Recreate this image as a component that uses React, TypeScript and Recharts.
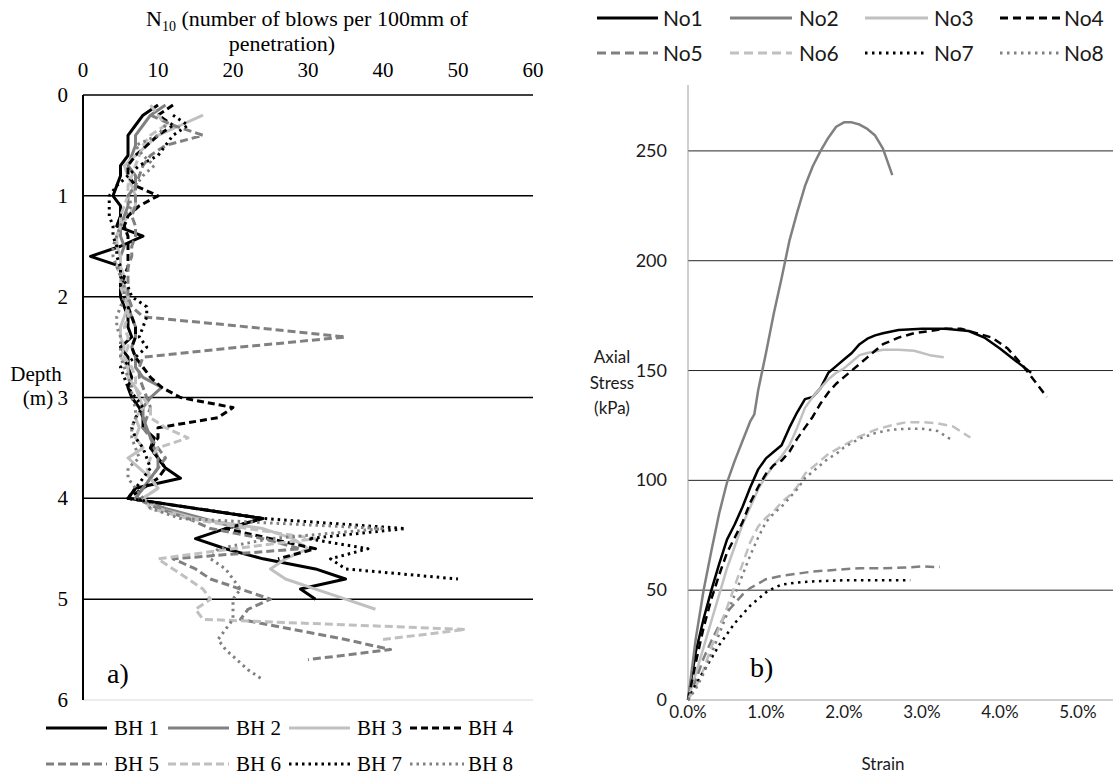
import React from "react";
import { ScatterChart, Scatter, XAxis, YAxis, ReferenceLine } from "recharts";

const SERIF = "'Liberation Serif', 'Times New Roman', serif";
const SANS = "Lato, 'Open Sans', sans-serif";

// ---- a) DCP profiles: one N10 reading every 100 mm ----
const DEPTHS = [
  0.1, 0.2, 0.3, 0.4, 0.5, 0.6, 0.7, 0.8, 0.9, 1.0,
  1.1, 1.2, 1.3, 1.4, 1.5, 1.6, 1.7, 1.8, 1.9, 2.0,
  2.1, 2.2, 2.3, 2.4, 2.5, 2.6, 2.7, 2.8, 2.9, 3.0,
  3.1, 3.2, 3.3, 3.4, 3.5, 3.6, 3.7, 3.8, 3.9, 4.0,
  4.1, 4.2, 4.3, 4.4, 4.5, 4.6, 4.7, 4.8, 4.9, 5.0,
  5.1, 5.2, 5.3, 5.4, 5.5, 5.6, 5.7, 5.8, 5.9,
];

const BH1 = [
  10, 8, 7, 6, 6, 6, 5, 5, 4.5, 4,
  5, 5, 4.5, 8, 5, 1, 5, 5, 5, 5,
  5.5, 6, 6, 6.5, 5, 6, 6, 6.5, 6, 6.5,
  7.5, 8, 8, 9.5, 9, 10, 11, 13, 7, 6,
  15, 24, 19, 15, 19, 24, 31, 35, 29, 31,
];
const BH2 = [
  11, 9, 8, 7, 7, 6.5, 6, 7, 7, 6,
  6, 5.5, 5, 5, 5.5, 5, 5, 5, 5.5, 6,
  6, 6.5, 7, 7, 6.5, 7, 7, 8, 10.5, 9,
  8, 8, 8.5, 9, 9.5, 10, 10, 9, 8, 7,
  11, 16, 21,
];
const BH3 = [
  null, 16, 13, 10, 8.5, 7, 5.5, 6, 6.5, 7,
  7, 6, 5, 4.5, 4.5, 5, 5, 5.5, 5.5, 6,
  6, 5.5, 5, 5, 5.5, 5, 6, 6, 7, 7.5,
  8, 7, 7.5, 7, 8, 6, 7.5, 9, 10, 8,
  10, 15, 24, 28, 30, 27, 25, 27, 31, 35,
  39,
];
const BH4 = [
  12, 10, 12, 10, 8.5, 7, 6, 6, 7, 10,
  7.5, 6, 5.5, 6, 6, 6, 6, 5.5, 5, 5.5,
  6, 6.5, 7, 7, 6.5, 7, 8, 9, 10.5, 13,
  20, 18, 10, 10, 9, 10, 11, 10, 8, 6,
  15, 24, 19, 25, 31, 26,
];
const BH5 = [
  null, 9, 12, 16, 11, 9, 8, 7.5, 7, 7,
  7, 6.5, 7, 7, 6.5, 6.5, 6, 6, 6, 6,
  6.5, 8, 22, 35, 21, 8, 7.5, 7.5, 8, 8.5,
  9, 8.5, 8, 9, 10, 11, 10, 9, 8, 7,
  10, 14, 17, 24, 29, 12, 15, 17, 21, 25,
  22, 21, 28, 35, 41, 30,
];
const BH6 = [
  9, 10, 11, 9, 8, 7.5, 7, 6.5, 6, 6,
  5.5, 5, 5, 4.5, 4.5, 5, 4.5, 5, 5, 5.5,
  6, 6, 5.5, 6, 6, 5.5, 6.5, 7, 7, 8,
  9, 9, 11, 14, 10, 9, 8.5, 9, 10, 8,
  9, 14, 22, 31, 20, 10, 12, 14, 16, 17,
  15, 16, 51, 40,
];
const BH7 = [
  null, 12, 14, 12, 11, 10, 7.5, 6, 4.5, 3.5,
  3.5, 3.5, 4, 4, 4.5, 4.5, 5, 5, 6, 6.5,
  8.5, 8.5, 8, 7.5, 8.5, 7, 5, 5.5, 6, 7,
  8, 7, 6.5, 7, 8, 8.5, 9, 8, 7, 6,
  15, 24, 43, 30, 38, 33, 35, 50,
];
const BH8 = [
  null, null, 11, 10, 7, 8, 9.5, 8, 7, 6,
  6.5, 5.5, 5, 4.5, 4, 4, 4.5, 5, 5.5, 5.5,
  5, 4.5, 4.5, 5, 5, 5, 5.5, 6, 6.5, 6.5,
  7, 7, 6.5, 6.5, 7, 7.5, 6, 6, 7, 8,
  9, 13, 40, 25, 18, 17, 19, 20, 21, 20,
  20, 20, 19, 18, 19, 20.5, 22, 24,
];

const N_TICKS = [0, 10, 20, 30, 40, 50, 60];
const DEPTH_TICKS = [0, 1, 2, 3, 4, 5, 6];
const DEPTH_GRID = [0, 1, 2, 3, 4, 5];

// ---- b) triaxial stress-strain (strain in %) ----
const NO1_STRAIN = [0, 0.1, 0.2, 0.3, 0.4, 0.5, 0.6, 0.7, 0.8, 0.9, 1.0, 1.1, 1.2, 1.3, 1.4, 1.5, 1.6, 1.7, 1.8, 1.9, 2.0, 2.1, 2.2, 2.3, 2.4, 2.5, 2.7, 3.0, 3.3, 3.6, 3.8, 4.0, 4.2, 4.4];
const NO1_STRESS = [0, 22, 37, 50, 62, 73, 80, 88, 97, 105, 110, 113, 116, 124, 131, 137, 138, 142, 149, 152, 155, 158, 162, 164.5, 166, 167, 168.5, 169, 169, 168, 165, 160, 154.5, 149];

const NO2_STRAIN = [0, 0.1, 0.2, 0.3, 0.4, 0.5, 0.6, 0.7, 0.8, 0.85, 0.9, 1.0, 1.1, 1.2, 1.3, 1.4, 1.5, 1.6, 1.7, 1.8, 1.9, 2.0, 2.1, 2.2, 2.3, 2.4, 2.5, 2.62];
const NO2_STRESS = [0, 28, 50, 68, 85, 99, 109, 118, 127, 130, 141, 158, 176, 192, 209, 222, 234, 243, 250, 256, 261, 263, 263, 262, 260, 257, 251, 239];

const NO3_STRAIN = [0, 0.1, 0.2, 0.3, 0.4, 0.5, 0.6, 0.7, 0.8, 0.9, 1.0, 1.1, 1.2, 1.3, 1.4, 1.5, 1.6, 1.7, 1.8, 1.9, 2.0, 2.1, 2.2, 2.3, 2.5, 2.7, 2.9, 3.1, 3.28];
const NO3_STRESS = [0, 12, 24, 36, 48, 60, 70, 80, 88, 96, 102, 107, 111, 116, 124, 133, 138, 142, 146, 149, 151, 154, 157, 158, 159.5, 159.5, 159, 157, 156];

const NO4_STRAIN = [0, 0.1, 0.2, 0.3, 0.4, 0.5, 0.6, 0.7, 0.8, 0.9, 1.0, 1.1, 1.2, 1.3, 1.4, 1.5, 1.6, 1.7, 1.8, 1.9, 2.0, 2.1, 2.2, 2.3, 2.4, 2.5, 2.7, 2.9, 3.1, 3.3, 3.5, 3.7, 3.9, 4.1, 4.3, 4.45, 4.6];
const NO4_STRESS = [0, 17, 33, 46, 57, 67, 74, 81, 90, 97, 103, 107, 109, 113, 119, 124, 129, 135, 140, 144, 147, 150, 153, 156, 159, 162, 165, 167, 168, 169, 169, 167, 165, 160, 152, 145, 138];

const NO5_STRAIN = [0, 0.1, 0.2, 0.3, 0.4, 0.5, 0.6, 0.7, 0.8, 0.9, 1.0, 1.2, 1.4, 1.6, 1.8, 2.0, 2.2, 2.5, 2.8, 3.0, 3.23];
const NO5_STRESS = [0, 9, 19, 27, 34, 40, 44, 48, 51, 53, 55, 56.5, 57.5, 58.5, 59, 59.5, 60, 60, 60.3, 60.8, 60.5];

const NO6_STRAIN = [0, 0.1, 0.2, 0.3, 0.4, 0.5, 0.6, 0.7, 0.8, 0.9, 1.0, 1.1, 1.2, 1.3, 1.4, 1.5, 1.6, 1.7, 1.8, 1.9, 2.0, 2.2, 2.4, 2.6, 2.8, 3.0, 3.2, 3.4, 3.62];
const NO6_STRESS = [0, 6, 14, 24, 33, 42, 52, 62, 72, 79, 83, 86, 90, 93, 97, 103, 106, 109, 112, 114, 116, 120, 123, 125, 126.5, 126.5, 126, 124.5, 119.5];

const NO7_STRAIN = [0, 0.1, 0.2, 0.3, 0.4, 0.5, 0.6, 0.7, 0.8, 0.9, 1.0, 1.1, 1.2, 1.4, 1.6, 2.0, 2.4, 2.85];
const NO7_STRESS = [0, 7, 13, 19, 25, 30, 35, 39, 43, 46, 49, 51, 52.5, 53.5, 54, 54.5, 54.5, 54.5];

const NO8_STRAIN = [0, 0.1, 0.2, 0.3, 0.4, 0.5, 0.6, 0.7, 0.8, 0.9, 1.0, 1.1, 1.2, 1.3, 1.4, 1.5, 1.6, 1.7, 1.8, 1.9, 2.0, 2.2, 2.4, 2.6, 2.8, 3.0, 3.2, 3.4];
const NO8_STRESS = [0, 5, 12, 21, 30, 39, 48, 57, 66, 74, 81, 85, 88, 92, 96, 101, 104, 107, 110, 112, 115, 119, 121.5, 123, 123.5, 123.5, 122.5, 118];

const STRAIN_TICKS = [0, 1, 2, 3, 4, 5];
const STRESS_TICKS = [0, 50, 100, 150, 200, 250];
const STRESS_GRID = [50, 100, 150, 200, 250];

const BLACK = "#000000";
const MID = "#808080";
const LIGHT = "#c0c0c0";

type Style = { color: string; dash?: string };

const profile = (values: (number | null)[]) =>
  values
    .map((n, i) => (n == null ? null : { n, d: DEPTHS[i] }))
    .filter((p): p is { n: number; d: number } => p !== null);

const curve = (strain: number[], stress: number[]) =>
  strain.map((x, i) => ({ x, y: stress[i] }));

const BOREHOLES: ({ name: string; values: (number | null)[] } & Style)[] = [
  { name: "BH 1", values: BH1, color: BLACK },
  { name: "BH 2", values: BH2, color: MID },
  { name: "BH 3", values: BH3, color: LIGHT },
  { name: "BH 4", values: BH4, color: BLACK, dash: "7 4" },
  { name: "BH 5", values: BH5, color: MID, dash: "8 4" },
  { name: "BH 6", values: BH6, color: LIGHT, dash: "8 4" },
  { name: "BH 7", values: BH7, color: BLACK, dash: "2.5 4" },
  { name: "BH 8", values: BH8, color: MID, dash: "2.5 4" },
];

const TESTS: ({ name: string; strain: number[]; stress: number[] } & Style)[] = [
  { name: "No1", strain: NO1_STRAIN, stress: NO1_STRESS, color: BLACK },
  { name: "No2", strain: NO2_STRAIN, stress: NO2_STRESS, color: MID },
  { name: "No3", strain: NO3_STRAIN, stress: NO3_STRESS, color: LIGHT },
  { name: "No4", strain: NO4_STRAIN, stress: NO4_STRESS, color: BLACK, dash: "8 5" },
  { name: "No5", strain: NO5_STRAIN, stress: NO5_STRESS, color: MID, dash: "9 5" },
  { name: "No6", strain: NO6_STRAIN, stress: NO6_STRESS, color: LIGHT, dash: "9 5" },
  { name: "No7", strain: NO7_STRAIN, stress: NO7_STRESS, color: BLACK, dash: "2.5 4.5" },
  { name: "No8", strain: NO8_STRAIN, stress: NO8_STRESS, color: MID, dash: "2.5 4.5" },
];

const noDot = () => <g />;

// tick labels
const NTick = ({ x, payload }: any) => (
  <text x={x} y={77} textAnchor="middle" fontFamily={SERIF} fontSize={21} fill="#000">
    {payload.value}
  </text>
);
const DepthTick = ({ y, payload }: any) => (
  <text x={68} y={y + 7} textAnchor="end" fontFamily={SERIF} fontSize={21} fill="#000">
    {payload.value}
  </text>
);
const StrainTick = ({ x, payload }: any) => (
  <text x={x} y={718} textAnchor="middle" fontFamily={SANS} fontSize={17} fill="#1a1a1a">
    {`${payload.value.toFixed(1)}%`}
  </text>
);
const StressTick = ({ y, payload }: any) => (
  <text x={107} y={y + 6} textAnchor="end" fontFamily={SANS} fontSize={18} fill="#1a1a1a">
    {payload.value}
  </text>
);

function DepthProfiles() {
  return (
    <ScatterChart width={560} height={778} margin={{ top: 70, right: 27, bottom: 78, left: 40 }}>
      <XAxis
        type="number"
        dataKey="n"
        orientation="top"
        domain={[0, 60]}
        ticks={N_TICKS}
        height={25}
        axisLine={false}
        tickLine={false}
        tick={NTick}
      />
      <YAxis
        type="number"
        dataKey="d"
        domain={[0, 6]}
        reversed
        ticks={DEPTH_TICKS}
        width={43}
        axisLine={{ stroke: "#000", strokeWidth: 2 }}
        tickLine={false}
        tick={DepthTick}
      />
      {DEPTH_GRID.map((d) => (
        <ReferenceLine key={d} y={d} stroke="#000" strokeWidth={1.5} />
      ))}
      <ReferenceLine y={6} stroke="#d9d9d9" strokeWidth={1} />
      {BOREHOLES.map((b) => (
        <Scatter
          key={b.name}
          name={b.name}
          data={profile(b.values)}
          shape={noDot}
          line={{ stroke: b.color, strokeWidth: 3, strokeDasharray: b.dash, strokeLinejoin: "round" }}
          isAnimationActive={false}
        />
      ))}
    </ScatterChart>
  );
}

function StressStrain() {
  return (
    <ScatterChart width={555} height={778} margin={{ top: 85, right: 2, bottom: 48, left: 80 }}>
      <XAxis
        type="number"
        dataKey="x"
        domain={[0, 5.45]}
        ticks={STRAIN_TICKS}
        height={30}
        axisLine={{ stroke: "#a0a0a0" }}
        tickLine={false}
        tick={StrainTick}
      />
      <YAxis
        type="number"
        dataKey="y"
        domain={[0, 280]}
        ticks={STRESS_TICKS}
        width={48}
        axisLine={{ stroke: "#a0a0a0" }}
        tickLine={false}
        tick={StressTick}
      />
      {STRESS_GRID.map((s) => (
        <ReferenceLine key={s} y={s} stroke="#262626" strokeWidth={1} />
      ))}
      {TESTS.map((t) => (
        <Scatter
          key={t.name}
          name={t.name}
          data={curve(t.strain, t.stress)}
          shape={noDot}
          line={{ stroke: t.color, strokeWidth: 2.5, strokeDasharray: t.dash, strokeLinejoin: "round" }}
          isAnimationActive={false}
        />
      ))}
    </ScatterChart>
  );
}

// legend slots: [line start, line end, text x]
const LEFT_SLOTS = [
  [46, 107, 114],
  [168, 229, 236],
  [289, 350, 357],
  [410, 464, 468],
];
const RIGHT_SLOTS = [
  [597, 658, 663],
  [730, 792, 799],
  [865, 928, 934],
  [1000, 1061, 1064],
];

function Overlay() {
  return (
    <svg
      width={1115}
      height={778}
      style={{ position: "absolute", left: 0, top: 0, pointerEvents: "none" }}
    >
      {/* a) axis titles */}
      <text x={307} y={26} textAnchor="middle" fontFamily={SERIF} fontSize={22} fill="#000">
        N
        <tspan fontSize={14} dy={5}>10</tspan>
        <tspan dy={-5}> (number of blows per 100mm of</tspan>
      </text>
      <text x={282} y={51} textAnchor="middle" fontFamily={SERIF} fontSize={22} fill="#000">
        penetration)
      </text>
      <text x={36} y={381} textAnchor="middle" fontFamily={SERIF} fontSize={21} fill="#000">
        Depth
      </text>
      <text x={38} y={405} textAnchor="middle" fontFamily={SERIF} fontSize={21} fill="#000">
        (m)
      </text>
      <text x={107} y={683} fontFamily={SERIF} fontSize={28} fill="#000">
        a)
      </text>

      {/* b) axis titles */}
      <text x={612} y={363} textAnchor="middle" fontFamily={SANS} fontSize={17} fill="#1a1a1a">
        Axial
      </text>
      <text x={612} y={389} textAnchor="middle" fontFamily={SANS} fontSize={17} fill="#1a1a1a">
        Stress
      </text>
      <text x={612} y={414} textAnchor="middle" fontFamily={SANS} fontSize={17} fill="#1a1a1a">
        (kPa)
      </text>
      <text x={883} y={770} textAnchor="middle" fontFamily={SANS} fontSize={17} fill="#1a1a1a">
        Strain
      </text>
      <text x={750} y={677} fontFamily={SERIF} fontSize={28} fill="#000">
        b)
      </text>

      {/* legends */}
      {BOREHOLES.map((b, i) => {
        const [x1, x2, tx] = LEFT_SLOTS[i % 4];
        const y = i < 4 ? 728 : 764;
        return (
          <g key={b.name}>
            <line x1={x1} x2={x2} y1={y} y2={y} stroke={b.color} strokeWidth={3} strokeDasharray={b.dash} />
            <text x={tx} y={y + 7} fontFamily={SERIF} fontSize={21} fill="#000">
              {b.name}
            </text>
          </g>
        );
      })}
      {TESTS.map((t, i) => {
        const [x1, x2, tx] = RIGHT_SLOTS[i % 4];
        const y = i < 4 ? 18 : 53;
        return (
          <g key={t.name}>
            <line x1={x1} x2={x2} y1={y} y2={y} stroke={t.color} strokeWidth={3} strokeDasharray={t.dash} />
            <text x={tx} y={y + 8} fontFamily={SANS} fontSize={21} fill="#1a1a1a">
              {t.name}
            </text>
          </g>
        );
      })}
    </svg>
  );
}

export default function App() {
  return (
    <div style={{ position: "relative", width: 1115, height: 778, background: "#fff", overflow: "hidden" }}>
      <style>{`body { margin: 0; }`}</style>
      <div style={{ position: "absolute", left: 0, top: 0 }}>
        <DepthProfiles />
      </div>
      <div style={{ position: "absolute", left: 560, top: 0 }}>
        <StressStrain />
      </div>
      <Overlay />
    </div>
  );
}
